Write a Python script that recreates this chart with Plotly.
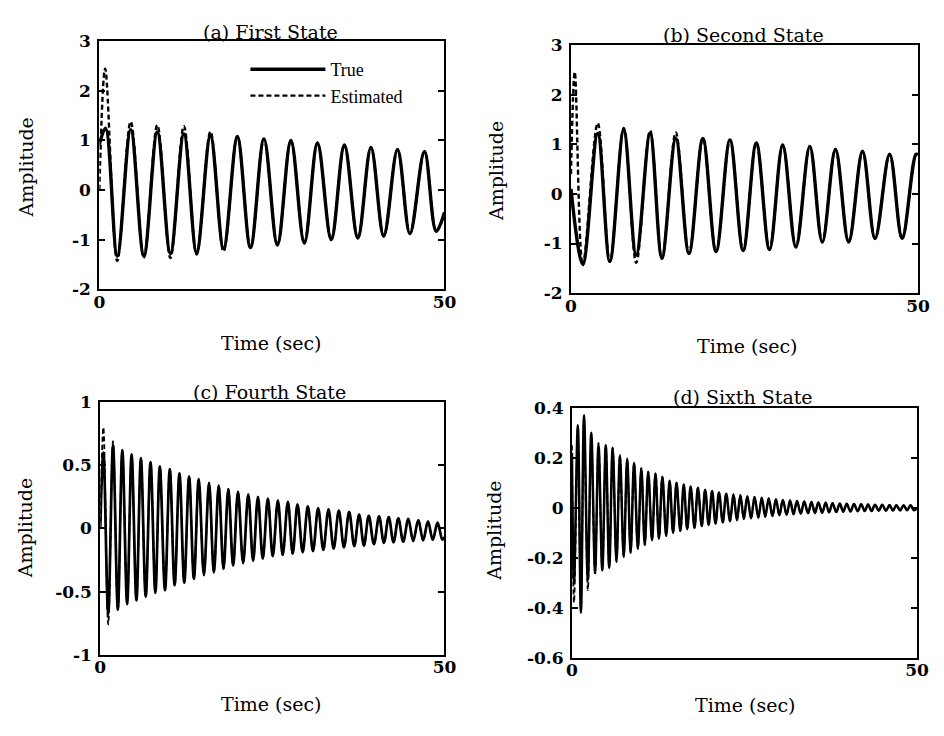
import plotly.graph_objects as go

# ---------------- text ----------------
TITLES = ["(a) First State", "(b) Second State", "(c) Fourth State", "(d) Sixth State"]
X_LABEL = "Time (sec)"
Y_LABEL = "Amplitude"
SERIES_NAMES = ["True", "Estimated"]

# ---------------- ticks ----------------
X_TICKS = [0, 50]
X_TICK_TEXT = ["0", "50"]
A_Y_TICKS = [-2, -1, 0, 1, 2, 3]
A_Y_TEXT = ["-2", "-1", "0", "1", "2", "3"]
B_Y_TICKS = [-2, -1, 0, 1, 2, 3]
B_Y_TEXT = ["-2", "-1", "0", "1", "2", "3"]
C_Y_TICKS = [-1, -0.5, 0, 0.5, 1]
C_Y_TEXT = ["-1", "-0.5", "0", "0.5", "1"]
D_Y_TICKS = [-0.6, -0.4, -0.2, 0, 0.2, 0.4]
D_Y_TEXT = ["-0.6", "-0.4", "-0.2", "0", "0.2", "0.4"]

# ---------------- (a) First state: extrema ----------------
A_TRUE_T = [0, 0.9, 2.6, 4.55, 6.45, 8.4, 10.3, 12.25, 14.1, 16.1, 18.0, 20.0, 21.9, 23.85,
            25.8, 27.75, 29.7, 31.6, 33.6, 35.5, 37.45, 39.35, 41.2, 43.2, 45.0, 47.1, 48.8, 50]
A_TRUE_Y = [0.92, 1.25, -1.33, 1.22, -1.33, 1.17, -1.28, 1.13, -1.26, 1.09, -1.18, 1.07, -1.16, 1.03,
            -1.11, 1.0, -1.07, 0.95, -1.0, 0.91, -0.97, 0.86, -0.93, 0.82, -0.88, 0.78, -0.83, -0.45]
A_EST_T = [0, 0.85, 2.6, 4.55, 6.45, 8.4, 10.3, 12.25, 14.1, 16.1, 18.0, 20.0] + A_TRUE_T[12:]
A_EST_Y = [0.0, 2.45, -1.43, 1.38, -1.36, 1.31, -1.37, 1.29, -1.3, 1.18, -1.24, 1.09] + A_TRUE_Y[12:]

# ---------------- (b) Second state ----------------
B_TRUE_T = [0, 1.7, 3.85, 5.6, 7.6, 9.4, 11.4, 13.1, 15.1, 17.0, 19.0, 20.9, 22.9, 24.8,
            26.7, 28.6, 30.5, 32.4, 34.4, 36.2, 38.1, 40.0, 42.0, 43.8, 45.9, 47.7, 49.7, 50]
B_TRUE_Y = [0.1, -1.42, 1.22, -1.36, 1.29, -1.23, 1.22, -1.29, 1.12, -1.2, 1.12, -1.16, 1.09, -1.14,
            1.03, -1.12, 0.99, -1.07, 0.96, -0.97, 0.9, -0.97, 0.86, -0.9, 0.8, -0.9, 0.8, 0.79]
B_EST_T = [0, 0.55, 1.7, 3.85, 5.6, 7.6, 9.4, 11.4, 13.1, 15.1] + B_TRUE_T[9:]
B_EST_Y = [0.4, 2.46, -1.44, 1.43, -1.37, 1.33, -1.39, 1.28, -1.31, 1.24] + B_TRUE_Y[9:]

# ---------------- (c) Fourth state ----------------
C_TRUE_T = [0, 0.45,
            1.15, 1.85, 2.55, 3.2, 3.9, 4.55, 5.25, 5.9, 6.6, 7.3, 8.0, 8.65, 9.4, 10.1,
            10.8, 11.5, 12.2, 12.9, 13.6, 14.3, 15.05, 15.8, 16.5, 17.2, 17.9, 18.6,
            19.3, 20.0, 20.75, 21.5, 22.2, 22.9, 23.6, 24.35, 25.05, 25.8, 26.5, 27.25,
            27.95, 28.65, 29.4, 30.15, 30.9, 31.65, 32.4, 33.15, 33.9, 34.65, 35.4, 36.15,
            36.9, 37.6, 38.3, 39.0, 39.75, 40.5, 41.2, 41.9, 42.6, 43.3, 44.0, 44.75,
            45.45, 46.2, 46.9, 47.6, 48.3, 49.0,
            49.7, 50]
C_TRUE_Y = [0.0, 0.6,
            -0.68, 0.66, -0.64, 0.62, -0.6, 0.585, -0.57, 0.556, -0.54, 0.525, -0.51, 0.49, -0.49, 0.47,
            -0.45, 0.436, -0.43, 0.41, -0.4, 0.39, -0.37, 0.36, -0.35, 0.34, -0.32, 0.31,
            -0.295, 0.29, -0.275, 0.27, -0.256, 0.25, -0.24, 0.235, -0.22, 0.22, -0.21, 0.21,
            -0.2, 0.19, -0.19, 0.175, -0.18, 0.16, -0.17, 0.15, -0.16, 0.14, -0.15, 0.13,
            -0.14, 0.11, -0.136, 0.1, -0.125, 0.095, -0.115, 0.09, -0.11, 0.08, -0.105, 0.075,
            -0.1, 0.065, -0.095, 0.055, -0.09, 0.045,
            -0.09, -0.07]
C_EST_T = [0, 0.45, 1.15, 1.85, 2.55] + C_TRUE_T[5:]
C_EST_Y = [0.05, 0.8, -0.76, 0.69, -0.66] + C_TRUE_Y[5:]

# ---------------- (d) Sixth state ----------------
D_TRUE_T = [0,
            0.3, 0.85, 1.3, 1.75, 2.3, 2.8, 3.35, 3.85, 4.4, 4.9, 5.4, 5.9,
            6.45, 6.95, 7.5, 8.0, 8.5, 9.0, 9.55, 10.05, 10.55, 11.05, 11.6, 12.1,
            12.6, 13.1, 13.65, 14.15, 14.65, 15.15, 15.7, 16.2, 16.7, 17.2, 17.75, 18.25,
            18.8, 19.3, 19.8, 20.3, 20.8, 21.3, 21.85, 22.35, 22.9, 23.4, 23.9, 24.4,
            24.9, 25.4, 25.95, 26.45, 27.0, 27.5, 28.0, 28.5, 29.05, 29.55, 30.05, 30.55,
            31.1, 31.6, 32.1, 32.6, 33.15, 33.65, 34.2, 34.7, 35.2, 35.7, 36.25, 36.75,
            37.25, 37.75, 38.3, 38.8, 39.3, 39.8, 40.35, 40.85, 41.4, 41.9, 42.4, 42.9,
            43.4, 43.9, 44.45, 44.95, 45.5, 46.0, 46.5, 47.0, 47.55, 48.05, 48.55, 49.05,
            49.55, 50]
D_TRUE_Y = [0.22,
            -0.3, 0.33, -0.42, 0.37, -0.29, 0.30, -0.255, 0.25, -0.25, 0.25, -0.24, 0.24,
            -0.216, 0.21, -0.196, 0.196, -0.18, 0.18, -0.164, 0.158, -0.149, 0.144, -0.13, 0.137,
            -0.123, 0.124, -0.112, 0.108, -0.1, 0.1, -0.093, 0.093, -0.086, 0.085, -0.08, 0.08,
            -0.073, 0.072, -0.068, 0.067, -0.063, 0.061, -0.058, 0.056, -0.054, 0.054, -0.05, 0.05,
            -0.045, 0.046, -0.042, 0.043, -0.039, 0.04, -0.036, 0.037, -0.033, 0.034, -0.03, 0.031,
            -0.028, 0.029, -0.026, 0.027, -0.024, 0.025, -0.022, 0.023, -0.021, 0.021, -0.02, 0.02,
            -0.018, 0.018, -0.017, 0.017, -0.016, 0.016, -0.015, 0.015, -0.014, 0.014, -0.013, 0.013,
            -0.013, 0.012, -0.012, 0.012, -0.012, 0.011, -0.011, 0.01, -0.011, 0.01, -0.01, 0.01,
            -0.01, 0.0]
D_EST_T = [0, 0.3, 0.85, 1.3, 1.75, 2.3, 2.8, 3.35, 3.85] + D_TRUE_T[9:]
D_EST_Y = [0.25, -0.38, 0.28, -0.4, 0.34, -0.33, 0.28, -0.27, 0.26] + D_TRUE_Y[9:]

# ---------------- layout ----------------
# The page keeps the browser's default 8px body margin, so the figure is made
# a little smaller than the 944x736 window (no scrollbars); every position
# below is given in window pixels and shifted by that margin.
MARGIN = 8
W, H = 944 - 2 * MARGIN - 2, 736 - 2 * MARGIN - 2


def fx(px):
    return (px - MARGIN) / W


def fy(py):
    return 1 - (py - MARGIN) / H


panels = [
    dict(t=A_TRUE_T, y=A_TRUE_Y, et=A_EST_T, ey=A_EST_Y, yr=[-2, 3], tv=A_Y_TICKS, tt=A_Y_TEXT,
         px=(95, 447), py=(32, 287), lw=3.4, title_xy=(270, 22), xl_xy=(271, 342), yl_xy=(20, 162)),
    dict(t=B_TRUE_T, y=B_TRUE_Y, et=B_EST_T, ey=B_EST_Y, yr=[-2, 3], tv=B_Y_TICKS, tt=B_Y_TEXT,
         px=(576, 930), py=(36, 291), lw=3.4, title_xy=(752, 25), xl_xy=(756, 345), yl_xy=(499, 165)),
    dict(t=C_TRUE_T, y=C_TRUE_Y, et=C_EST_T, ey=C_EST_Y, yr=[-1, 1], tv=C_Y_TICKS, tt=C_Y_TEXT,
         px=(96, 447), py=(403, 663), lw=2.7, title_xy=(269, 393), xl_xy=(271, 714), yl_xy=(20, 533)),
    dict(t=D_TRUE_T, y=D_TRUE_Y, et=D_EST_T, ey=D_EST_Y, yr=[-0.6, 0.4], tv=D_Y_TICKS, tt=D_Y_TEXT,
         px=(577, 929), py=(409, 666), lw=2.5, title_xy=(751, 398), xl_xy=(754, 715), yl_xy=(498, 535)),
]

TICK_FONT = dict(family="DejaVu Serif", size=17, color="black", weight="bold")
LABEL_FONT = dict(family="DejaVu Serif", size=19, color="black")

fig = go.Figure()
annotations = []
for i, p in enumerate(panels, start=1):
    sfx = "" if i == 1 else str(i)
    xref, yref = "x" + sfx, "y" + sfx
    fig.add_trace(go.Scatter(
        x=p["et"], y=p["ey"], mode="lines", name=SERIES_NAMES[1], xaxis=xref, yaxis=yref,
        line=dict(color="black", width=max(p["lw"] - 1.0, 1.8), dash="5px,3px", shape="spline", smoothing=1.0),
        showlegend=(i == 1), legendrank=2, hoverinfo="skip"))
    fig.add_trace(go.Scatter(
        x=p["t"], y=p["y"], mode="lines", name=SERIES_NAMES[0], xaxis=xref, yaxis=yref,
        line=dict(color="black", width=p["lw"], shape="spline", smoothing=1.0),
        showlegend=(i == 1), legendrank=1, hoverinfo="skip"))

    xd = [fx(p["px"][0]), fx(p["px"][1])]
    yd = [fy(p["py"][1]), fy(p["py"][0])]
    common = dict(showgrid=False, zeroline=False, showline=True, linecolor="black", linewidth=2,
                  mirror="ticks", ticks="inside", tickcolor="black", tickwidth=2,
                  tickfont=TICK_FONT, fixedrange=True)
    fig.update_layout(**{
        "xaxis" + sfx: dict(domain=xd, range=[0, 50], anchor=yref, tickvals=X_TICKS,
                            ticktext=X_TICK_TEXT, ticklen=4, ticklabelstandoff=-4, **common),
        "yaxis" + sfx: dict(domain=yd, range=p["yr"], anchor=xref, tickvals=p["tv"],
                            ticktext=p["tt"], ticklen=6, ticklabelstandoff=3, **common),
    })
    annotations.append(dict(text=TITLES[i - 1], x=fx(p["title_xy"][0]), y=fy(p["title_xy"][1]),
                            xref="paper", yref="paper", showarrow=False, xanchor="center",
                            yanchor="middle", font=LABEL_FONT))
    annotations.append(dict(text=X_LABEL, x=fx(p["xl_xy"][0]), y=fy(p["xl_xy"][1]),
                            xref="paper", yref="paper", showarrow=False, xanchor="center",
                            yanchor="middle", font=LABEL_FONT))
    annotations.append(dict(text=Y_LABEL, x=fx(p["yl_xy"][0]), y=fy(p["yl_xy"][1]),
                            xref="paper", yref="paper", showarrow=False, xanchor="center",
                            yanchor="middle", textangle=-90, font=LABEL_FONT))

fig.update_layout(
    width=W, height=H, margin=dict(l=0, r=0, t=0, b=0),
    paper_bgcolor="white", plot_bgcolor="white",
    annotations=annotations,
    legend=dict(x=fx(244), y=fy(42), xanchor="left", yanchor="top",
                bgcolor="rgba(0,0,0,0)", borderwidth=0, itemwidth=75,
                font=dict(family="Liberation Serif", size=18, color="black"),
                tracegroupgap=0),
    showlegend=True,
)

fig.write_html("out.html", config={"displayModeBar": False})
